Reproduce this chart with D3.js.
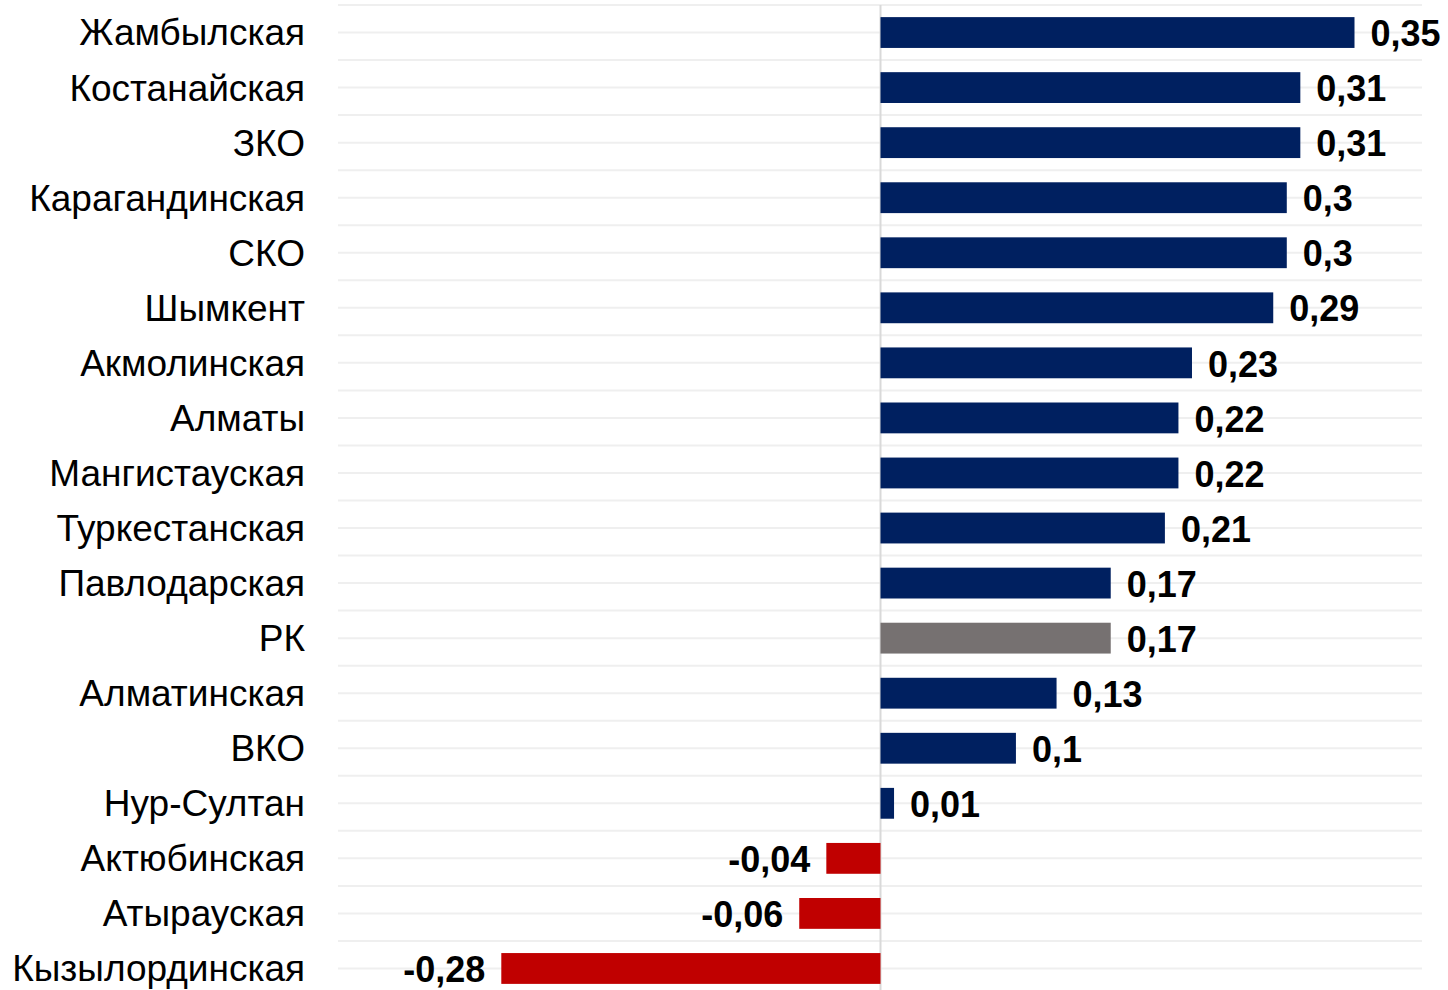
<!DOCTYPE html>
<html><head><meta charset="utf-8">
<script src="https://cdn.jsdelivr.net/npm/d3@7"></script>
<style>body{margin:0;background:#fff}svg{display:block}</style>
</head><body>
<svg id="c" width="1448" height="990"></svg>
<script>
const categories = ["Жамбылская","Костанайская","ЗКО","Карагандинская","СКО","Шымкент","Акмолинская","Алматы","Мангистауская","Туркестанская","Павлодарская","РК","Алматинская","ВКО","Нур-Султан","Актюбинская","Атырауская","Кызылординская"];
const values = [0.35,0.31,0.31,0.30,0.30,0.29,0.23,0.22,0.22,0.21,0.17,0.17,0.13,0.10,0.01,-0.04,-0.06,-0.28];
const labels = ["0,35","0,31","0,31","0,3","0,3","0,29","0,23","0,22","0,22","0,21","0,17","0,17","0,13","0,1","0,01","-0,04","-0,06","-0,28"];

const svg = d3.select("#c");
const font = "'Liberation Sans', Arial, sans-serif";
const x = d3.scaleLinear().domain([0, 0.35]).range([880.5, 1354.5]);
const y = d3.scaleBand().domain(categories).range([5, 996]).paddingInner(0.44).paddingOuter(0.22);
const step = y.step();

const gl = [];
categories.forEach((c,i)=>{ gl.push(y(c)+y.bandwidth()/2); gl.push(y(c)+y.bandwidth()/2 - step/2); });
gl.push(y(categories[categories.length-1])+y.bandwidth()/2 + step/2);
svg.append("g").selectAll("line").data(gl).join("line")
  .attr("x1",338).attr("x2",1422).attr("y1",d=>d).attr("y2",d=>d)
  .attr("stroke","#efefef").attr("stroke-width",2);

svg.append("line").attr("x1",x(0)).attr("x2",x(0)).attr("y1",5).attr("y2",990)
  .attr("stroke","#d9d9d9").attr("stroke-width",2);

const color = (c,v) => c==="РК" ? "#767171" : (v<0 ? "#C00000" : "#002060");
svg.append("g").selectAll("rect").data(categories).join("rect")
  .attr("x",(c,i)=>Math.min(x(0),x(values[i])))
  .attr("width",(c,i)=>Math.abs(x(values[i])-x(0)))
  .attr("y",c=>y(c)).attr("height",y.bandwidth())
  .attr("fill",(c,i)=>color(c,values[i]));

svg.append("g").selectAll("text").data(categories).join("text")
  .attr("x",305).attr("y",c=>y(c)+y.bandwidth()/2).attr("dy","0.35em")
  .attr("text-anchor","end").attr("font-family",font).attr("font-size",37).attr("fill","#000")
  .text(c=>c);

svg.append("g").selectAll("text").data(categories).join("text")
  .attr("x",(c,i)=> values[i]<0 ? x(values[i])-16 : x(values[i])+16)
  .attr("y",c=>y(c)+y.bandwidth()/2).attr("dy","0.38em")
  .attr("text-anchor",(c,i)=>values[i]<0?"end":"start")
  .attr("font-family",font).attr("font-size",36).attr("font-weight","bold").attr("fill","#000")
  .text((c,i)=>labels[i]);
</script>
</body></html>
